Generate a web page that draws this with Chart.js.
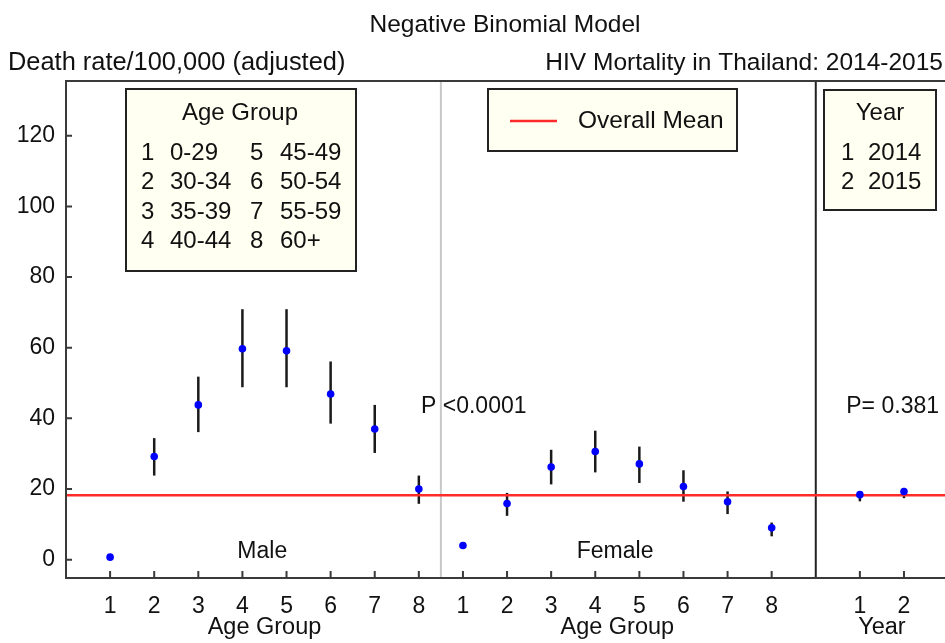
<!DOCTYPE html>
<html>
<head>
<meta charset="utf-8">
<style>
html, body { margin: 0; padding: 0; background: #fff; }
#wrap { width: 945px; height: 643px; }
</style>
<script src="https://cdn.jsdelivr.net/npm/chart.js@4.4.1/dist/chart.umd.min.js"></script>
</head>
<body>
<div id="wrap"><canvas id="nbChart"></canvas></div>
<script>
// age group codes and their labels
const ageCodes = [1, 2, 3, 4, 5, 6, 7, 8]
const ageGroups = ['0-29', '30-34', '35-39', '40-44', '45-49', '50-54', '55-59', '60+']
const yearCodes = [1, 2]
const years = ['2014', '2015']

// adjusted death rate per 100,000 with interval ends
const maleRate = [0.7, 29.2, 43.8, 59.7, 59.1, 46.9, 37.0, 20.0]
const maleLow = [0.5, 23.8, 36.1, 48.8, 48.8, 38.5, 30.2, 15.8]
const maleHigh = [0.9, 34.4, 51.8, 70.9, 70.9, 56.1, 43.8, 23.8]
const femaleRate = [4.0, 15.9, 26.2, 30.6, 27.1, 20.7, 16.4, 9.0]
const femaleLow = [3.3, 12.4, 21.3, 24.7, 21.7, 16.4, 12.9, 6.6]
const femaleHigh = [4.4, 18.9, 31.1, 36.5, 32.0, 25.3, 19.3, 10.5]
const yearRate = [18.4, 19.3]
const yearLow = [16.5, 17.4]
const yearHigh = [19.3, 20.3]
const overallMean = 18.2
const yTicks = [0, 20, 40, 60, 80, 100, 120]

// panels sit side by side on one x axis
const maleX = ageCodes
const femaleX = ageCodes.map(c => c + 8)
const yearX = yearCodes.map(c => c + 17)
const xTicks = maleX.concat(femaleX, yearX)
const xMax = 19.93

const FONT = "'Liberation Sans', Arial, sans-serif"
const ink = '#111'
const axisCol = '#3a3a3a'

function pts(xs, ys) {
    return xs.map((x, i) => ({ x: x, y: ys[i] }))
}

function tickLabel(v) {
    if (v <= 8) return String(v)
    if (v <= 16) return String(v - 8)
    return String(v - 17)
}

function box(ctx, x, y, w, h) {
    ctx.fillStyle = '#fffff2'
    ctx.fillRect(x, y, w, h)
    ctx.strokeStyle = '#222'
    ctx.lineWidth = 2
    ctx.strokeRect(x, y, w, h)
}

function text(ctx, s, x, y, align, size) {
    ctx.font = (size || 23) + 'px ' + FONT
    ctx.fillStyle = ink
    ctx.textAlign = align || 'left'
    ctx.textBaseline = 'middle'
    ctx.fillText(s, x, y)
}

const decor = {
    id: 'decor',
    beforeDraw(chart) {
        const ctx = chart.ctx
        ctx.save()
        ctx.fillStyle = '#fff'
        ctx.fillRect(0, 0, chart.width, chart.height)
        ctx.restore()
    },
    beforeDatasetsDraw(chart) {
        const ctx = chart.ctx
        const a = chart.chartArea
        const x = chart.scales.x
        const y = chart.scales.y
        ctx.save()
        // panel separators
        ctx.lineWidth = 2
        ctx.strokeStyle = '#c8c8c8'
        ctx.beginPath()
        ctx.moveTo(x.getPixelForValue(8.5), a.top)
        ctx.lineTo(x.getPixelForValue(8.5), a.bottom)
        ctx.stroke()
        ctx.strokeStyle = '#222'
        ctx.beginPath()
        ctx.moveTo(x.getPixelForValue(17), a.top)
        ctx.lineTo(x.getPixelForValue(17), a.bottom)
        ctx.stroke()
        // error bars
        ctx.strokeStyle = '#1a1a1a'
        ctx.lineWidth = 2.5
        const bars = [[maleX, maleLow, maleHigh], [femaleX, femaleLow, femaleHigh], [yearX, yearLow, yearHigh]]
        bars.forEach(([xs, lo, hi]) => {
            xs.forEach((xv, i) => {
                const px = x.getPixelForValue(xv)
                ctx.beginPath()
                ctx.moveTo(px, y.getPixelForValue(lo[i]))
                ctx.lineTo(px, y.getPixelForValue(hi[i]))
                ctx.stroke()
            })
        })
        ctx.restore()
    },
    afterDatasetsDraw(chart) {
        const ctx = chart.ctx
        const a = chart.chartArea
        const x = chart.scales.x
        const y = chart.scales.y
        ctx.save()
        // frame
        ctx.strokeStyle = axisCol
        ctx.lineWidth = 2
        ctx.beginPath()
        ctx.moveTo(a.right, a.top)
        ctx.lineTo(a.left, a.top)
        ctx.lineTo(a.left, a.bottom)
        ctx.lineTo(a.right, a.bottom)
        ctx.stroke()
        // inward tick marks
        ctx.beginPath()
        yTicks.forEach(v => {
            const py = y.getPixelForValue(v)
            ctx.moveTo(a.left, py)
            ctx.lineTo(a.left + 6, py)
        })
        xTicks.forEach(v => {
            const px = x.getPixelForValue(v)
            ctx.moveTo(px, a.bottom)
            ctx.lineTo(px, a.bottom - 7)
        })
        ctx.stroke()

        // titles
        text(ctx, 'Negative Binomial Model', 505, 25, 'center', 24.5)
        text(ctx, 'Death rate/100,000 (adjusted)', 8, 63, 'left', 25.4)
        text(ctx, 'HIV Mortality in Thailand: 2014-2015', 943, 63, 'right', 24.5)

        // age group key
        box(ctx, 126, 89, 230, 182)
        text(ctx, 'Age Group', 240, 113, 'center', 24)
        ageCodes.forEach((c, i) => {
            const col = i < 4 ? 0 : 1
            const row = i % 4
            const ry = 153 + row * 29.6
            text(ctx, String(c), col ? 250 : 141, ry, 'left', 24)
            text(ctx, ageGroups[i], col ? 280 : 170, ry, 'left', 24)
        })

        // mean key
        box(ctx, 488, 89, 249, 62)
        ctx.strokeStyle = '#ff2a2a'
        ctx.lineWidth = 2.5
        ctx.beginPath()
        ctx.moveTo(510, 121)
        ctx.lineTo(557, 121)
        ctx.stroke()
        text(ctx, 'Overall Mean', 578, 121, 'left', 24.5)

        // year key
        box(ctx, 824, 90, 112, 120)
        text(ctx, 'Year', 880, 113, 'center', 24)
        yearCodes.forEach((c, i) => {
            text(ctx, String(c), 841, 153 + i * 29, 'left', 24)
            text(ctx, years[i], 868, 153 + i * 29, 'left', 24)
        })

        // annotations
        text(ctx, 'P <0.0001', 421, 407, 'left', 23)
        text(ctx, 'P= 0.381', 939, 407, 'right', 23)
        text(ctx, 'Male', x.getPixelForValue(4.45), 552, 'center', 23)
        text(ctx, 'Female', x.getPixelForValue(12.45), 552, 'center', 23)

        // axis titles
        text(ctx, 'Age Group', x.getPixelForValue(4.5), 628, 'center', 23.5)
        text(ctx, 'Age Group', x.getPixelForValue(12.5), 628, 'center', 23.5)
        text(ctx, 'Year', x.getPixelForValue(18.5), 628, 'center', 23.5)
        ctx.restore()
    }
}

const pointStyle = {
    type: 'scatter',
    pointRadius: 3.8,
    pointHoverRadius: 3.8,
    backgroundColor: '#0000ff',
    borderColor: '#0000ff',
    borderWidth: 0
}

const ctx = document.getElementById('nbChart')
const nbChart = new Chart(ctx, {
    type: 'scatter',
    data: {
        datasets: [
            {
                label: 'Overall Mean',
                data: [{ x: 0, y: overallMean }, { x: xMax, y: overallMean }],
                showLine: true,
                borderColor: '#ff2a2a',
                borderWidth: 2.5,
                pointRadius: 0,
                order: 2
            },
            Object.assign({ label: 'Male', data: pts(maleX, maleRate), order: 1 }, pointStyle),
            Object.assign({ label: 'Female', data: pts(femaleX, femaleRate), order: 1 }, pointStyle),
            Object.assign({ label: 'Year', data: pts(yearX, yearRate), order: 1 }, pointStyle)
        ]
    },
    options: {
        responsive: true,
        maintainAspectRatio: false,
        animation: false,
        layout: { autoPadding: false, padding: { top: 81, left: 0, right: 0, bottom: 0 } },
        scales: {
            x: {
                type: 'linear',
                min: 0,
                max: xMax,
                grid: { display: false, drawTicks: false },
                border: { display: false },
                afterBuildTicks: s => { s.ticks = xTicks.map(v => ({ value: v })) },
                afterFit: s => { s.height = 65 },
                ticks: {
                    autoSkip: false,
                    maxRotation: 0,
                    padding: 15,
                    color: ink,
                    font: { family: FONT, size: 23 },
                    callback: v => tickLabel(v)
                }
            },
            y: {
                min: -5.2,
                max: 135.5,
                grid: { display: false, drawTicks: false },
                border: { display: false },
                afterBuildTicks: s => { s.ticks = yTicks.map(v => ({ value: v })) },
                afterFit: s => { s.width = 66 },
                ticks: {
                    padding: 11,
                    color: ink,
                    font: { family: FONT, size: 23 }
                }
            }
        },
        plugins: {
            legend: { display: false },
            tooltip: { enabled: false }
        }
    },
    plugins: [decor]
})
</script>
</body>
</html>
